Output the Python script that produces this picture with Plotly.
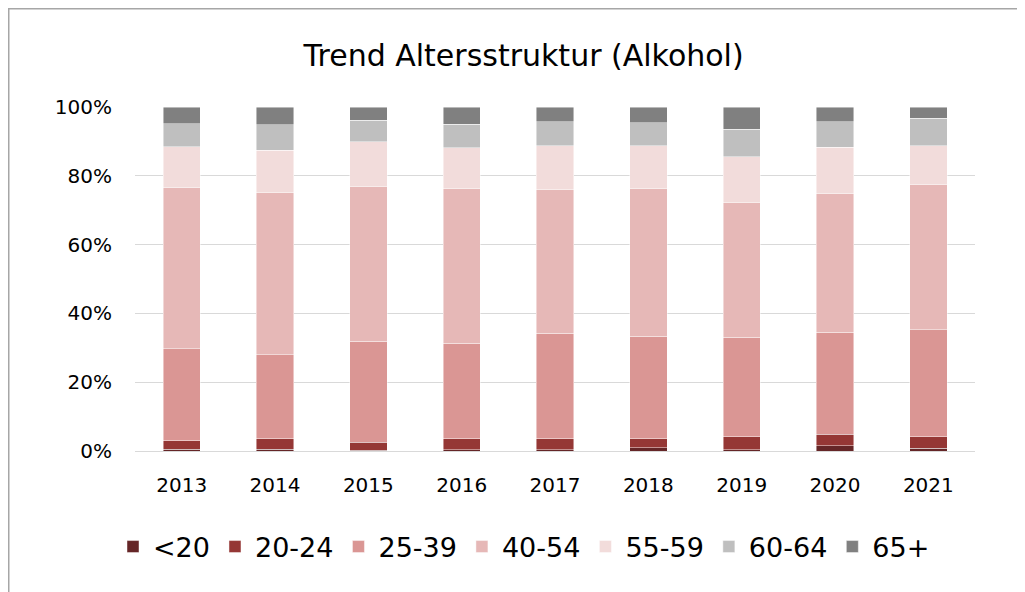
import plotly.graph_objects as go

years = ["2013", "2014", "2015", "2016", "2017", "2018", "2019", "2020", "2021"]
series_names = ["<20", "20-24", "25-39", "40-54", "55-59", "60-64", "65+"]
lt20   = [0.5, 0.5, 0.2, 0.3, 0.3, 0.9, 0.3, 1.5, 0.8]
a20_24 = [2.5, 3.0, 2.3, 3.2, 3.3, 2.7, 3.8, 3.3, 3.3]
a25_39 = [26.7, 24.5, 29.4, 27.8, 30.6, 29.8, 29.0, 29.7, 31.2]
a40_54 = [46.9, 47.1, 44.9, 44.9, 41.7, 42.8, 39.1, 40.3, 42.1]
a55_59 = [11.9, 12.3, 13.1, 12.0, 12.9, 12.6, 13.3, 13.5, 11.4]
a60_64 = [6.6, 7.5, 6.2, 6.8, 6.9, 6.6, 8.1, 7.4, 8.0]
a65p   = [4.9, 5.1, 3.9, 5.0, 4.3, 4.6, 6.4, 4.3, 3.2]
colors = ["#652627", "#953735", "#DA9694", "#E6B8B7", "#F2DCDB", "#BFBFBF", "#808080"]

values = [lt20, a20_24, a25_39, a40_54, a55_59, a60_64, a65p]

fig = go.Figure()
for name, vals, col in zip(series_names, values, colors):
    fig.add_trace(go.Bar(
        x=years, y=[v / 100 for v in vals], name=name,
        marker=dict(color=col, line=dict(color="rgba(255,255,255,0.6)", width=0.75)),
    ))

font_family = "'DejaVu Sans', sans-serif"
W, H = 1017, 584
L, R, T, B = 127, 50, 99, 141
pw, ph = W - L - R, H - T - B

fig.update_layout(
    barmode="stack",
    bargap=0.6,
    width=W, height=H,
    margin=dict(l=L, r=R, t=T, b=B),
    paper_bgcolor="white", plot_bgcolor="white",
    font=dict(family=font_family, color="#000000"),
    title=dict(text="Trend Altersstruktur (Alkohol)", x=0.507, xanchor="center",
               y=1 - 47 / H, yanchor="middle",
               font=dict(size=30, family=font_family, color="#000000")),
    legend=dict(orientation="h", x=(516 - L) / pw, xanchor="center",
                y=(ph - (539 - T)) / ph, yanchor="middle",
                font=dict(size=27, family=font_family), traceorder="normal",
                itemwidth=30),
    showlegend=True,
    xaxis=dict(showgrid=False, showline=True, linecolor="#D9D9D9", linewidth=1,
               tickfont=dict(size=20), ticks="", ticklabelstandoff=16),
    yaxis=dict(range=[0, 1], tickvals=[0, 0.2, 0.4, 0.6, 0.8, 1.0], tickformat=".0%",
               showgrid=True, gridcolor="#D9D9D9", gridwidth=1, zeroline=False,
               tickfont=dict(size=20), ticks="", ticklabelstandoff=22),
    shapes=[dict(type="rect", xref="paper", yref="paper",
                 x0=(0.75 - L) / pw, x1=(W + 20 - L) / pw,
                 y0=(ph - (H + 20 - T)) / ph, y1=(ph - (0.75 - T)) / ph,
                 line=dict(color="#A6A6A6", width=1.5), fillcolor="rgba(0,0,0,0)",
                 layer="below")],
)

fig.write_html("out.html")
